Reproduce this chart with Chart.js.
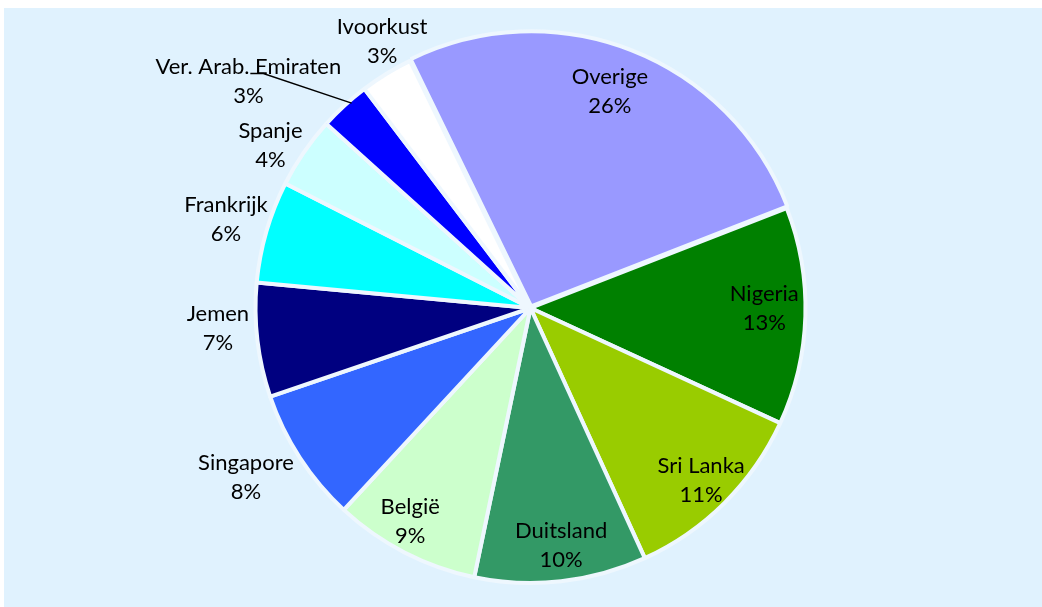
<!DOCTYPE html>
<html>
<head>
<meta charset="utf-8">
<script src="https://cdn.jsdelivr.net/npm/chart.js@4.4.1/dist/chart.umd.min.js"></script>
<style>
  html, body { margin: 0; padding: 0; background: #ffffff; }
  #panel { position: absolute; left: 4px; top: 8px; width: 1038px; height: 599px; background: #e0f2fe; }
</style>
</head>
<body>
<div id="panel"><canvas id="myChart"></canvas></div>
<script>
const countries = ['Overige', 'Nigeria', 'Sri Lanka', 'Duitsland', 'België', 'Singapore', 'Jemen', 'Frankrijk', 'Spanje', 'Ver. Arab. Emiraten', 'Ivoorkust'];
const shares = [26.3, 12.8, 11.3, 10.1, 8.6, 7.9, 6.7, 6.0, 4.2, 3.0, 3.1];
const sliceColors = ['#9999ff', '#008000', '#99cc00', '#339966', '#ccffcc', '#3366ff', '#000080', '#00ffff', '#ccffff', '#0000ff', '#ffffff'];

// label placement: distance as a fraction of the radius, and angle nudge in degrees
const labelDist = [0.83, 0.85, 0.89, 0.88, 0.90, 1.21, 1.14, 1.15, 1.11, 1.31, 1.10];
const labelNudge = [-1, -1, 0.7, -0.9, 1.8, 1.8, 2.4, -0.5, -2.9, -9, 2.2];

const sliceLabels = {
    id: 'sliceLabels',
    afterDatasetsDraw(chart) {
        const ctx = chart.ctx;
        const meta = chart.getDatasetMeta(0);
        const total = shares.reduce((a, b) => a + b, 0);
        ctx.save();
        ctx.font = '22px Lato';
        ctx.fillStyle = '#000000';
        ctx.textAlign = 'center';
        ctx.textBaseline = 'middle';
        meta.data.forEach((arc, i) => {
            const { x, y, startAngle, endAngle, outerRadius } = arc.getProps(['x', 'y', 'startAngle', 'endAngle', 'outerRadius'], true);
            const midAngle = (startAngle + endAngle) / 2;
            const a = midAngle + labelNudge[i] * Math.PI / 180;
            const r = outerRadius * labelDist[i];
            const lx = x + Math.cos(a) * r;
            const ly = y + Math.sin(a) * r - 3;
            ctx.fillText(countries[i], lx, ly - 14.5);
            ctx.fillText(Math.round(shares[i] / total * 100) + '%', lx, ly + 14.5);

            // leader line for the small slice whose label sits off to the side
            if (i === 9) {
                const ex = x + Math.cos(midAngle + 0.025) * (outerRadius - 3);
                const ey = y + Math.sin(midAngle + 0.025) * (outerRadius - 3);
                ctx.beginPath();
                ctx.moveTo(lx + 2, ly - 7.5);
                ctx.lineTo(lx + 15, ly - 7.5);
                ctx.lineTo(ex, ey);
                ctx.strokeStyle = '#000000';
                ctx.lineWidth = 1.5;
                ctx.stroke();
            }
        });
        ctx.restore();
    }
};

const ctx = document.getElementById('myChart').getContext('2d');
const chart = new Chart(ctx, {
    type: 'pie',
    data: {
        labels: countries,
        datasets: [{
            data: shares,
            backgroundColor: sliceColors,
            borderColor: '#eef7fe',
            borderWidth: 4,
            offset: [7, 0, 0, 0, 0, 0, 0, 0, 0, 0, 0],
            hoverOffset: 0
        }]
    },
    options: {
        responsive: true,
        maintainAspectRatio: false,
        animation: false,
        rotation: -26,
        radius: 275,
        layout: { padding: { left: 15, right: 0, top: 1, bottom: 0 } },
        plugins: {
            legend: { display: false },
            tooltip: { enabled: false }
        }
    },
    plugins: [sliceLabels]
});
</script>
</body>
</html>
